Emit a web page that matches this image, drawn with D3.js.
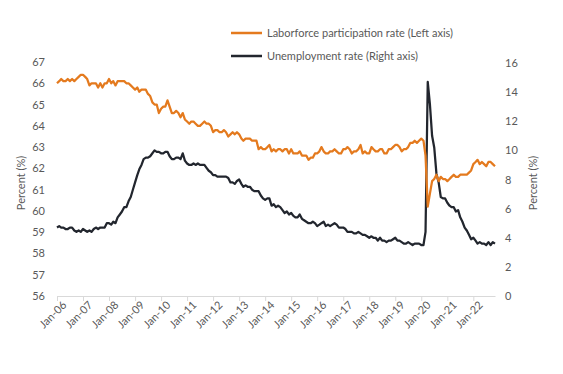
<!DOCTYPE html>
<html>
<head>
<meta charset="utf-8">
<script src="https://cdn.jsdelivr.net/npm/d3@7"></script>
<style>
  body { margin: 0; background: #fff; }
  text { font-family: Lato, "Open Sans", sans-serif; fill: #595959; }
</style>
</head>
<body>
<svg id="chart" width="563" height="374"></svg>
<script>
// monthly series, Jan 2006 .. Nov 2022
const startMonth = new Date(2006, 0, 1);

const participation = [
  66.0, 66.1, 66.2, 66.1, 66.1, 66.2, 66.1, 66.2, 66.1, 66.2, 66.3, 66.4,
  66.4, 66.3, 66.2, 65.9, 66.0, 66.0, 66.0, 65.8, 66.0, 65.8, 66.0, 66.0,
  66.2, 66.0, 66.1, 65.9, 66.1, 66.1, 66.1, 66.1, 66.0, 66.0, 65.9, 65.8,
  65.7, 65.8, 65.6, 65.7, 65.7, 65.7, 65.5, 65.4, 65.1, 65.0, 65.0, 64.6,
  64.8, 64.9, 64.9, 65.2, 64.9, 64.6, 64.6, 64.7, 64.6, 64.4, 64.6, 64.3,
  64.2, 64.1, 64.2, 64.2, 64.1, 64.0, 64.0, 64.1, 64.2, 64.1, 64.1, 64.0,
  63.7, 63.8, 63.8, 63.7, 63.7, 63.8, 63.7, 63.5, 63.6, 63.7, 63.6, 63.7,
  63.6, 63.4, 63.3, 63.4, 63.4, 63.4, 63.3, 63.3, 63.3, 62.9, 63.0, 62.9,
  62.9, 63.0, 63.1, 62.8, 62.9, 62.8, 62.9, 62.9, 62.8, 62.9, 62.9, 62.7,
  62.9, 62.7, 62.7, 62.7, 62.8, 62.6, 62.6, 62.6, 62.4, 62.5, 62.5, 62.7,
  62.7, 62.8, 63.0, 62.8, 62.7, 62.7, 62.8, 62.8, 62.9, 62.8, 62.7, 62.7,
  62.9, 62.9, 63.0, 62.9, 62.7, 62.8, 62.8, 62.9, 63.1, 62.7, 62.8, 62.7,
  62.7, 63.0, 62.9, 62.8, 62.8, 62.9, 62.9, 62.7, 62.7, 62.9, 62.9, 63.0,
  63.1, 63.1, 63.0, 62.8, 62.9, 62.9, 63.0, 63.2, 63.2, 63.3, 63.2, 63.3,
  63.4, 63.3, 62.6, 60.2, 60.8, 61.4, 61.5, 61.7, 61.4, 61.6, 61.5, 61.5,
  61.4, 61.5, 61.6, 61.7, 61.6, 61.6, 61.7, 61.7, 61.7, 61.7, 61.8, 61.9,
  62.2, 62.3, 62.4, 62.2, 62.3, 62.2, 62.1, 62.3, 62.3, 62.2, 62.1
];

const unemployment = [
  4.7, 4.8, 4.7, 4.7, 4.6, 4.6, 4.7, 4.7, 4.5, 4.4, 4.5, 4.4,
  4.6, 4.5, 4.4, 4.5, 4.4, 4.6, 4.7, 4.6, 4.7, 4.7, 4.7, 5.0,
  5.0, 4.9, 5.1, 5.0, 5.4, 5.6, 5.8, 6.1, 6.1, 6.5, 6.8, 7.3,
  7.8, 8.3, 8.7, 9.0, 9.4, 9.5, 9.5, 9.6, 9.8, 10.0, 9.9, 9.9,
  9.8, 9.8, 9.9, 9.9, 9.6, 9.4, 9.4, 9.5, 9.5, 9.4, 9.8, 9.3,
  9.1, 9.0, 9.0, 9.1, 9.0, 9.1, 9.0, 9.0, 9.0, 8.8, 8.6, 8.5,
  8.3, 8.3, 8.2, 8.2, 8.2, 8.2, 8.2, 8.1, 7.8, 7.8, 7.7, 7.9,
  8.0, 7.7, 7.5, 7.6, 7.5, 7.5, 7.3, 7.2, 7.2, 7.2, 6.9, 6.7,
  6.6, 6.7, 6.7, 6.2, 6.3, 6.1, 6.2, 6.1, 5.9, 5.7, 5.8, 5.6,
  5.7, 5.5, 5.4, 5.4, 5.6, 5.3, 5.2, 5.1, 5.0, 5.0, 5.1, 5.0,
  4.8, 4.9, 5.0, 5.1, 4.8, 4.9, 4.8, 4.9, 5.0, 4.9, 4.7, 4.7,
  4.7, 4.6, 4.4, 4.4, 4.4, 4.3, 4.3, 4.4, 4.3, 4.2, 4.2, 4.1,
  4.0, 4.1, 4.0, 4.0, 3.8, 4.0, 3.8, 3.8, 3.7, 3.8, 3.8, 3.9,
  4.0, 3.8, 3.8, 3.7, 3.6, 3.6, 3.7, 3.6, 3.5, 3.6, 3.6, 3.6,
  3.5, 3.5, 4.4, 14.7, 13.2, 11.0, 10.2, 8.4, 7.8, 6.8, 6.7, 6.7,
  6.4, 6.2, 6.1, 6.1, 5.8, 5.9, 5.4, 5.1, 4.7, 4.5, 4.2, 3.9,
  4.0, 3.8, 3.6, 3.7, 3.6, 3.6, 3.5, 3.7, 3.5, 3.7, 3.6
];

const leftTicks = [56, 57, 58, 59, 60, 61, 62, 63, 64, 65, 66, 67];
const rightTicks = [0, 2, 4, 6, 8, 10, 12, 14, 16];
const yearTicks = d3.range(2006, 2023);

const seriesNames = ["Laborforce participation rate (Left axis)", "Unemployment rate (Right axis)"];
const colors = ["#E47A1E", "#22262E"];

const months = participation.map((_, i) => d3.timeMonth.offset(startMonth, i));
const data = months.map((m, i) => ({ date: m, lfp: participation[i], ur: unemployment[i] }));

const svg = d3.select("#chart");
const plot = { left: 57, right: 495, top: 62, bottom: 296 };

const x = d3.scaleTime()
  .domain([months[0], months[months.length - 1]])
  .range([plot.left, plot.right]);

const yLeft = d3.scaleLinear().domain([56, 67]).range([plot.bottom, plot.top]);
const yRight = d3.scaleLinear().domain([0, 16]).range([plot.bottom, plot.top + 1]);

// x axis
const xAxis = svg.append("g")
  .attr("transform", `translate(0,${plot.bottom})`)
  .call(d3.axisBottom(x)
    .tickValues(yearTicks.map(y => new Date(y, 0, 1)))
    .tickFormat(d3.timeFormat("Jan-%y"))
    .tickSizeInner(5)
    .tickSizeOuter(0));
xAxis.select(".domain").attr("stroke", "#d9d9d9");
xAxis.selectAll(".tick line").attr("stroke", "#d9d9d9");
xAxis.selectAll(".tick text")
  .attr("font-size", 11)
  .style("text-anchor", "end")
  .attr("dy", 0)
  .attr("transform", "translate(4,4) rotate(-45)");

// left axis
const leftAxis = svg.append("g")
  .attr("transform", `translate(${plot.left},0)`)
  .call(d3.axisLeft(yLeft).tickValues(leftTicks).tickSize(0).tickPadding(12));
leftAxis.select(".domain").remove();
leftAxis.selectAll("text").attr("font-size", 11);

// right axis
const rightAxis = svg.append("g")
  .attr("transform", `translate(${plot.right},0)`)
  .call(d3.axisRight(yRight).tickValues(rightTicks).tickSize(0).tickPadding(10));
rightAxis.select(".domain").remove();
rightAxis.selectAll("text").attr("font-size", 11);

svg.append("text")
  .attr("transform", `translate(25,${(plot.top + plot.bottom) / 2 + 4}) rotate(-90)`)
  .attr("text-anchor", "middle")
  .attr("font-size", 11)
  .text("Percent (%)");

svg.append("text")
  .attr("transform", `translate(537,${(plot.top + plot.bottom) / 2 + 4}) rotate(-90)`)
  .attr("text-anchor", "middle")
  .attr("font-size", 11)
  .text("Percent (%)");

// lines
svg.append("path")
  .datum(data)
  .attr("fill", "none")
  .attr("stroke", colors[1])
  .attr("stroke-width", 2.25)
  .attr("stroke-linejoin", "round")
  .attr("d", d3.line().x(d => x(d.date)).y(d => yRight(d.ur)));

svg.append("path")
  .datum(data)
  .attr("fill", "none")
  .attr("stroke", colors[0])
  .attr("stroke-width", 2.25)
  .attr("stroke-linejoin", "round")
  .attr("d", d3.line().x(d => x(d.date)).y(d => yLeft(d.lfp)));

// legend
const legend = svg.append("g").attr("transform", "translate(231,33)");
seriesNames.forEach((name, i) => {
  const g = legend.append("g").attr("transform", `translate(0,${i * 23})`);
  g.append("line")
    .attr("x1", 0).attr("x2", 31)
    .attr("stroke", colors[i])
    .attr("stroke-width", 2.5);
  g.append("text")
    .attr("x", 36)
    .attr("y", 4)
    .attr("font-size", 11)
    .text(name);
});
</script>
</body>
</html>
